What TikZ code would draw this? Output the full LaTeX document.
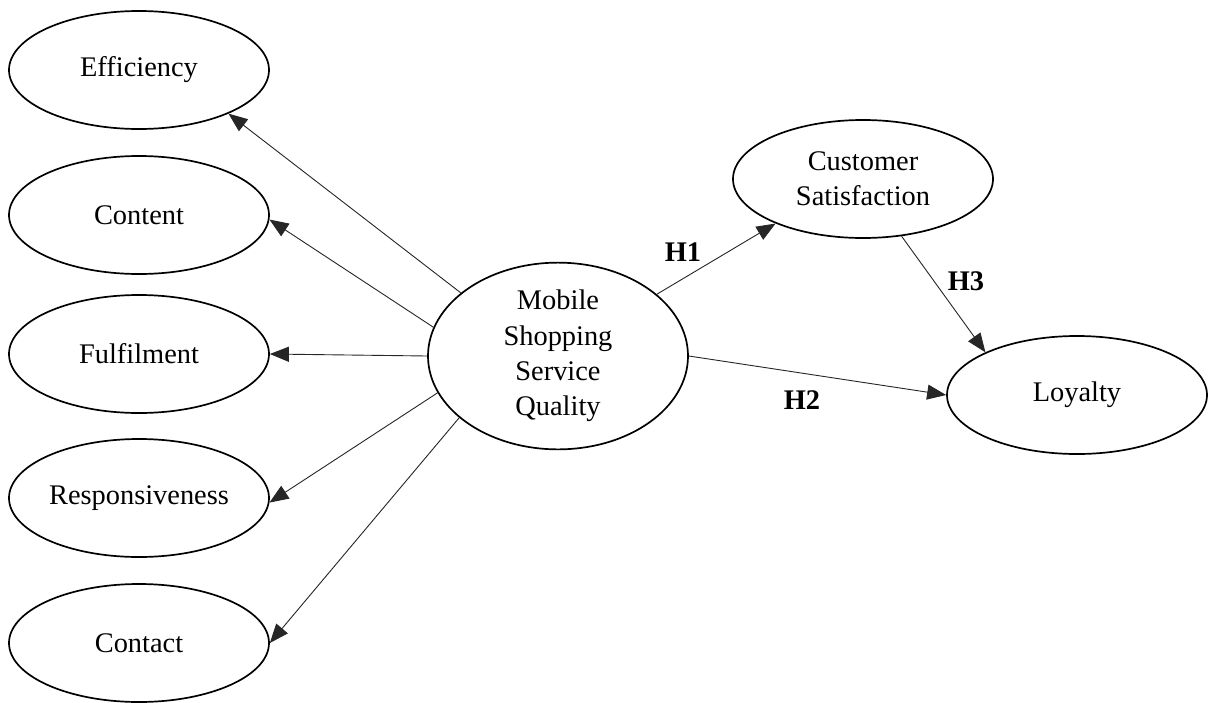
\documentclass[tikz,border=0pt]{standalone}
\usepackage{fontspec}
\setmainfont{Liberation Serif}
\usetikzlibrary{shapes.geometric,arrows.meta}
\begin{document}
\begin{tikzpicture}[x=0.5pt,y=-0.5pt,
  construct/.style={draw=black,line width=0.85pt,ellipse,minimum width=130pt,minimum height=59pt,inner sep=0pt,font=\fontsize{14.2}{17.7}\selectfont,align=center},
  link/.style={draw=black!85,line width=0.45pt,-{Triangle[length=9.5pt,width=7.5pt]}},
  hyp/.style={font=\fontsize{14.2}{16}\selectfont\bfseries,inner sep=0pt}]
\path[use as bounding box,fill=white] (0,0) rectangle (1210,702);
\node[construct] (eff) at (139,70) {Efficiency};
\node[construct] (con) at (139,215) {Content};
\node[construct] (ful) at (139,354) {Fulfilment};
\node[construct] (res) at (139,498) {Responsiveness};
\node[construct] (cnt) at (139,643) {Contact};
\node[construct,minimum height=84pt] (mob) at (558,356) {Mobile\\Shopping\\Service\\Quality};
\node[construct] (sat) at (863,179) {Customer\\Satisfaction};
\node[construct] (loy) at (1077,395) {Loyalty};
\draw[link] (mob.147.2) -- (eff.-26.6);
\draw[link] (mob.167.5) -- (con.-2);
\draw[link] (mob.180) -- (ful.0);
\draw[link] (mob.197) -- (res.-2.7);
\draw[link] (mob.212.8) -- (cnt.0);
\draw[link] (mob.32.3) -- (sat.207.3);
\draw[link] (mob.0) -- (loy.180);
\draw[link] (sat.-56.3) -- (loy.155.9);
\node[hyp] (h1) at (683,252) {H1};
\node[hyp] (h2) at (802,400) {H2};
\node[hyp] (h3) at (966,281) {H3};
\end{tikzpicture}
\end{document}
